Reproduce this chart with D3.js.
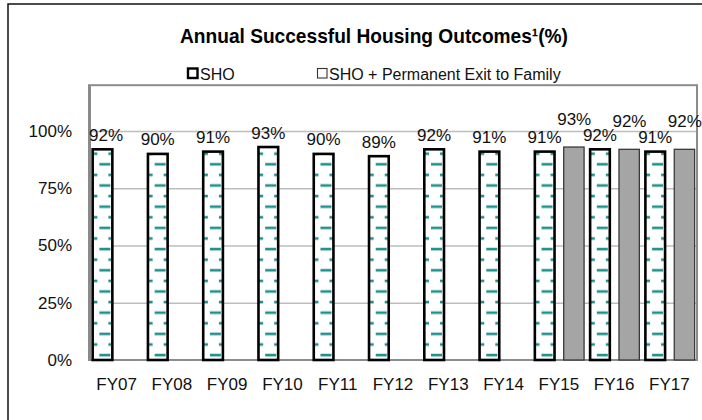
<!DOCTYPE html>
<meta charset="utf-8">
<style>
  body { margin: 0; background: #fff; }
  svg text { font-family: "Liberation Sans", Arial, sans-serif; fill: #111; }
  .axis text { font-size: 17px; }
  .label { font-size: 17px; }
  .legend text { font-size: 16px; }
</style>
<svg width="702" height="420"></svg>
<script src="https://cdn.jsdelivr.net/npm/d3@7"></script>
<script>
// values
var categories = ["FY07", "FY08", "FY09", "FY10", "FY11", "FY12", "FY13", "FY14", "FY15", "FY16", "FY17"];
var shoValues = [92, 90, 91, 93, 90, 89, 92, 91, 91, 92, 91];
var familyValues = [null, null, null, null, null, null, null, null, 93, 92, 92];
var yTicks = [0, 25, 50, 75, 100];
var seriesNames = ["SHO", "SHO + Permanent Exit to Family"];

var svg = d3.select("svg"),
    plot = {left: 89, right: 697, top: 85.2, bottom: 360};

var x = d3.scaleBand().domain(categories).range([plot.left, plot.right]).padding(0),
    x1 = d3.scaleBand().domain(["sho", "fam"]).range([0, x.bandwidth()]).paddingInner(0.29).paddingOuter(0.08),
    y = d3.scaleLinear().domain([0, 120]).range([plot.bottom, plot.top]);

// outer frame (runs off the right and bottom edge)
svg.append("rect")
    .attr("x", 8).attr("y", 4).attr("width", 800).attr("height", 500)
    .attr("fill", "none").attr("stroke", "#111").attr("stroke-width", 1.5);

// title
svg.append("text")
    .attr("x", 374).attr("y", 43)
    .attr("text-anchor", "middle")
    .attr("textLength", 388).attr("lengthAdjust", "spacingAndGlyphs")
    .style("font-size", "21px").style("font-weight", "bold").style("fill", "#000")
    .text("Annual Successful Housing Outcomes\u00b9(%)");

// legend
var legend = svg.append("g").attr("class", "legend");
legend.append("rect").attr("x", 188).attr("y", 68.5).attr("width", 9.5).attr("height", 9.5)
    .attr("fill", "#fff").attr("stroke", "#000").attr("stroke-width", 2.4);
legend.append("text").attr("x", 200).attr("y", 79.5).text(seriesNames[0]);
legend.append("rect").attr("x", 317.5).attr("y", 68.5).attr("width", 9.5).attr("height", 9.5)
    .attr("fill", "#fff").attr("stroke", "#333").attr("stroke-width", 1.1);
legend.append("text").attr("x", 329).attr("y", 79.5).text(seriesNames[1]);

// gridlines
svg.append("g")
    .attr("transform", "translate(" + plot.left + ",0)")
    .call(d3.axisLeft(y).tickValues(yTicks.slice(1)).tickSize(-(plot.right - plot.left)).tickFormat(""))
    .call(function(g) { g.select(".domain").remove(); })
    .selectAll("line").attr("stroke", "#bdbdbd").attr("stroke-width", 1.4);

// plot area border
svg.append("rect")
    .attr("x", plot.left).attr("y", plot.top)
    .attr("width", plot.right - plot.left).attr("height", plot.bottom - plot.top)
    .attr("fill", "none").attr("stroke", "#8c8c8c").attr("stroke-width", 2);
svg.append("line")
    .attr("x1", plot.left + 0.5).attr("x2", plot.left + 0.5).attr("y1", plot.top).attr("y2", plot.bottom + 1)
    .attr("stroke", "#8a8a8a").attr("stroke-width", 3);

// axes
svg.append("g").attr("class", "axis")
    .attr("transform", "translate(" + plot.left + ",0)")
    .call(d3.axisLeft(y).tickValues(yTicks).tickSize(0).tickPadding(17).tickFormat(function(d) { return d + "%"; }))
    .call(function(g) { g.select(".domain").remove(); });

svg.append("g").attr("class", "axis")
    .attr("transform", "translate(0," + plot.bottom + ")")
    .call(d3.axisBottom(x).tickSize(0).tickPadding(18))
    .call(function(g) { g.select(".domain").remove(); });

// dash pattern, one per bar so it lines up with the bar edge
var defs = svg.append("defs");
var bw = x1.bandwidth();
var shoData = categories.map(function(c, i) { return {cat: c, value: shoValues[i], i: i}; });
var famData = categories.map(function(c, i) { return {cat: c, value: familyValues[i], i: i}; })
    .filter(function(d) { return d.value != null; });

shoData.forEach(function(d) {
  var x0 = x(d.cat) + x1("sho");
  var p = defs.append("pattern")
      .attr("id", "dash" + d.i)
      .attr("patternUnits", "userSpaceOnUse")
      .attr("x", x0).attr("y", plot.bottom - 26.2)
      .attr("width", 22).attr("height", 21.2);
  p.append("rect").attr("width", 22).attr("height", 21.2).attr("fill", "#fff");
  p.append("rect").attr("x", 8).attr("y", 20).attr("width", 11).attr("height", 2.6).attr("fill", "#1f918d");
  p.append("rect").attr("x", 17).attr("y", 9.4).attr("width", 11).attr("height", 2.6).attr("fill", "#1f918d");
  p.append("rect").attr("x", -5).attr("y", 9.4).attr("width", 11).attr("height", 2.6).attr("fill", "#1f918d");
  p.append("rect").attr("x", 8).attr("y", -1.2).attr("width", 11).attr("height", 2.6).attr("fill", "#1f918d");
});

svg.append("g").selectAll("rect")
  .data(shoData)
  .enter().append("rect")
    .attr("x", function(d) { return x(d.cat) + x1("sho") + 1.3; })
    .attr("y", function(d) { return y(d.value); })
    .attr("width", bw - 1.3)
    .attr("height", function(d) { return plot.bottom - y(d.value); })
    .attr("fill", function(d) { return "url(#dash" + d.i + ")"; })
    .attr("stroke", "#000").attr("stroke-width", 2.6);

svg.append("g").selectAll("rect")
  .data(famData)
  .enter().append("rect")
    .attr("x", function(d) { return x(d.cat) + x1("fam") + 0.6; })
    .attr("y", function(d) { return y(d.value); })
    .attr("width", bw - 0.6)
    .attr("height", function(d) { return plot.bottom - y(d.value); })
    .attr("fill", "#a5a5a5")
    .attr("stroke", "#3a3a3a").attr("stroke-width", 1.3);

// data labels
function addLabels(data, key, lift) {
  svg.append("g").selectAll("text")
    .data(data)
    .enter().append("text")
      .attr("class", "label")
      .attr("text-anchor", "middle")
      .attr("y", function(d) { return y(d.value) - lift; })
      .text(function(d) { return d.value + "%"; })
      .attr("x", function(d) {
        var cx = x(d.cat) + x1(key) + bw / 2 + 0.6;
        var w = this.getComputedTextLength();
        return Math.max(cx, plot.left + w / 2);
      });
}
addLabels(shoData, "sho", 8.5);
addLabels(famData, "fam", 22.5);
</script>
